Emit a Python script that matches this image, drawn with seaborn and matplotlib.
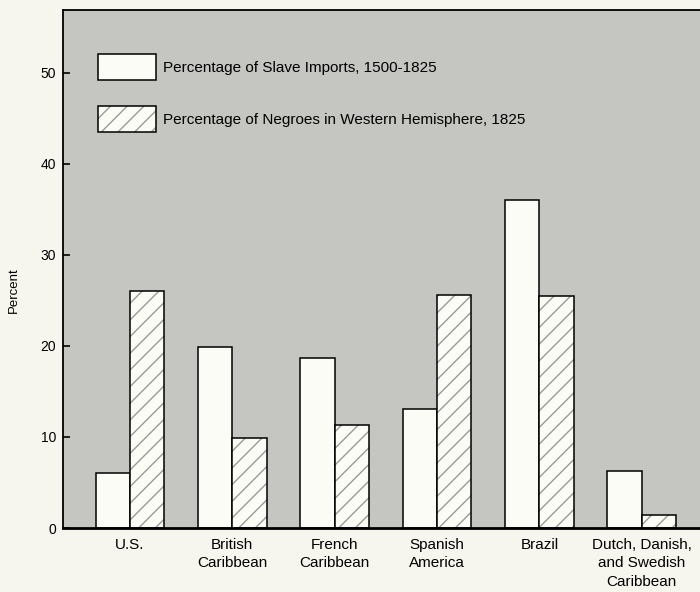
import pandas as pd
import matplotlib.pyplot as plt
import matplotlib.colors as mcolors
from matplotlib.patches import Patch
import seaborn as sns

# values
regions = ['U.S.', 'British\nCaribbean', 'French\nCaribbean', 'Spanish\nAmerica',
           'Brazil', 'Dutch, Danish,\nand Swedish\nCaribbean']
slave_imports = [6.0, 19.9, 18.7, 13.1, 36.0, 6.3]
negro_pop_1825 = [26.0, 9.9, 11.3, 25.6, 25.5, 1.4]
series_names = ['Percentage of Slave Imports, 1500-1825',
                'Percentage of Negroes in Western Hemisphere, 1825']
yticks = [0, 10, 20, 30, 40, 50]

df = pd.DataFrame({
    'region': regions * 2,
    'percent': slave_imports + negro_pop_1825,
    'series': [series_names[0]] * len(regions) + [series_names[1]] * len(regions),
})

sns.set_style("ticks")
plt.rcParams['font.family'] = ['Liberation Sans', 'DejaVu Sans']
plt.rcParams['text.color'] = 'black'
plt.rcParams['axes.labelcolor'] = 'black'
plt.rcParams['xtick.color'] = 'black'
plt.rcParams['ytick.color'] = 'black'

page = '#f7f6ee'
panel = '#c5c5c2'
barfill = '#fcfcf7'
hatch_gray = mcolors.to_rgba('#9a9a96')

fig = plt.figure(figsize=(7, 5.92), dpi=100, facecolor=page)
ax = fig.add_axes([63 / 700, 1 - 528 / 592, 1 - 63 / 700, (528 - 10) / 592])
ax.set_facecolor(panel)

sns.barplot(data=df, x='region', y='percent', hue='series', hue_order=series_names,
            order=regions, palette=[barfill, barfill], width=0.67,
            edgecolor='black', linewidth=1.1, saturation=1, ax=ax, legend=False)


def grey_hatch(p):
    p.set_hatch('//')
    if hasattr(p, 'set_hatchcolor'):
        p.set_hatchcolor(hatch_gray)
    else:
        p._hatch_color = hatch_gray


for bar in ax.containers[1]:
    grey_hatch(bar)

ax.set_xlim(-0.655, 5.57)
ax.set_ylim(0, 56.9)
ax.set_yticks(yticks)
ax.set_xlabel('')
ax.set_ylabel('Percent', fontsize=9.5)
ax.yaxis.set_label_coords(-0.068, 0.46)
ax.tick_params(axis='y', direction='in', length=5, width=1.2, labelsize=10, pad=5)
ax.tick_params(axis='x', length=0, labelsize=11, pad=7)
for lab in ax.get_xticklabels():
    lab.set_linespacing(1.4)

ax.spines['right'].set_visible(False)
ax.spines['left'].set_linewidth(1.3)
ax.spines['top'].set_linewidth(1.3)
ax.spines['bottom'].set_linewidth(2.0)
for side in ['left', 'top', 'bottom']:
    ax.spines[side].set_color('black')

handles = [Patch(facecolor=barfill, edgecolor='black', linewidth=1.1),
           Patch(facecolor=barfill, edgecolor='black', linewidth=1.1)]
leg = ax.legend(handles, series_names, loc='upper left',
                bbox_to_anchor=(98 / 700, 1 - 54 / 592), bbox_transform=fig.transFigure,
                frameon=False, fontsize=11, handlelength=3.8, handleheight=2.2,
                labelspacing=1.75, handletextpad=0.45, borderpad=0, borderaxespad=0)
grey_hatch(leg.get_patches()[1])

fig.savefig('out.png', dpi=100, facecolor=page)
